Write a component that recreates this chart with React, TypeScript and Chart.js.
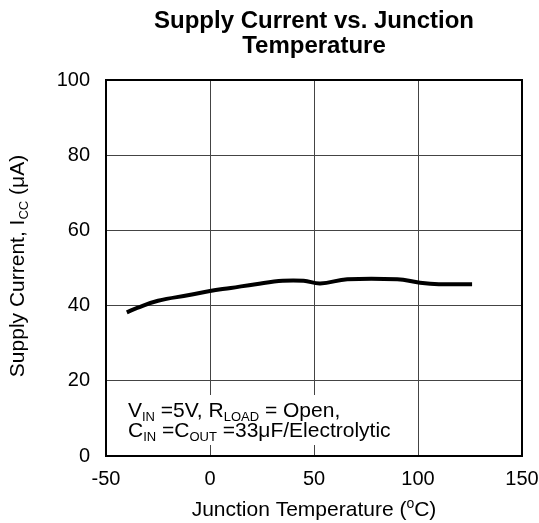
import React, { useEffect, useRef } from "react";
import { Chart, registerables } from "chart.js";

Chart.register(...registerables);

const temps = [-40, -35, -25, -10, 0, 10, 22, 35, 45, 53, 66, 90, 101, 110, 126];
const current = [38.2, 39.4, 41.3, 42.8, 43.9, 44.7, 45.7, 46.6, 46.6, 45.9, 47.0, 47.0, 46.1, 45.7, 45.7];
const xTicks = [-50, 0, 50, 100, 150];
const yTicks = [0, 20, 40, 60, 80, 100];
const titleLines = ["Supply Current vs. Junction", "Temperature"];

const FONT = 'Arial, "Liberation Sans", sans-serif';

type Seg = { t: string; sub?: boolean; sup?: boolean };

function drawRich(ctx: CanvasRenderingContext2D, segs: Seg[], x: number, y: number, align: "left" | "center", size: number, small: number, shift: number) {
  const widths = segs.map((s) => {
    ctx.font = `${s.sub || s.sup ? small : size}px ${FONT}`;
    return ctx.measureText(s.t).width;
  });
  const total = widths.reduce((a, b) => a + b, 0);
  let cx = align === "center" ? x - total / 2 : x;
  ctx.textAlign = "left";
  ctx.textBaseline = "alphabetic";
  segs.forEach((s, i) => {
    ctx.font = `${s.sub || s.sup ? small : size}px ${FONT}`;
    const dy = s.sub ? shift : s.sup ? -size * 0.4 : 0;
    ctx.fillText(s.t, cx, y + dy);
    cx += widths[i];
  });
  return total;
}

const decor = {
  id: "decor",
  afterDraw(chart: any) {
    const ctx: CanvasRenderingContext2D = chart.ctx;
    const a = chart.chartArea;
    ctx.save();
    ctx.strokeStyle = "#000";
    ctx.lineWidth = 2;
    ctx.strokeRect(a.left, a.top, a.right - a.left, a.bottom - a.top);
    const cx = (a.left + a.right) / 2;
    ctx.fillStyle = "#000";
    ctx.font = `bold 24px ${FONT}`;
    ctx.textAlign = "center";
    ctx.textBaseline = "alphabetic";
    ctx.fillText(titleLines[0], cx, 28);
    ctx.fillText(titleLines[1], cx, 53);
    drawRich(ctx, [{ t: "Junction Temperature (" }, { t: "o", sup: true }, { t: "C)" }], cx, 516, "center", 21, 14, 0);
    ctx.save();
    ctx.translate(24, 266);
    ctx.rotate(-Math.PI / 2);
    drawRich(ctx, [{ t: "Supply Current, I" }, { t: "CC", sub: true }, { t: " (μA)" }], 0, 0, "center", 21, 13, 4);
    ctx.restore();
    ctx.restore();
  },
  beforeDatasetsDraw(chart: any) {
    const ctx: CanvasRenderingContext2D = chart.ctx;
    const a = chart.chartArea;
    ctx.save();
    ctx.fillStyle = "#fff";
    ctx.fillRect(a.left + 2, 395, 250, 50);
    ctx.fillStyle = "#000";
    drawRich(ctx, [{ t: "V" }, { t: "IN", sub: true }, { t: " =5V, R" }, { t: "LOAD", sub: true }, { t: " = Open," }], 128, 416.5, "left", 21, 13, 4.5);
    drawRich(ctx, [{ t: "C" }, { t: "IN", sub: true }, { t: " =C" }, { t: "OUT", sub: true }, { t: " =33μF/Electrolytic" }], 128, 436.5, "left", 21, 13, 4.5);
    ctx.restore();
  },
};

export default function App() {
  const ref = useRef<HTMLCanvasElement>(null);
  useEffect(() => {
    if (!ref.current) return;
    const chart = new Chart(ref.current, {
      type: "line",
      data: {
        datasets: [
          {
            data: temps.map((t, i) => ({ x: t, y: current[i] })),
            borderColor: "#000",
            borderWidth: 4,
            pointRadius: 0,
            tension: 0.4,
            fill: false,
          },
        ],
      },
      options: {
        animation: false,
        responsive: false,
        layout: { padding: { left: 0, right: 17, top: 80, bottom: 0 } },
        plugins: { legend: { display: false }, tooltip: { enabled: false }, title: { display: false } },
        scales: {
          x: {
            type: "linear",
            min: -50,
            max: 150,
            afterBuildTicks: (s: any) => {
              s.ticks = xTicks.map((v) => ({ value: v }));
            },
            afterFit: (s: any) => {
              s.height = 67;
              s.paddingLeft = 0;
              s.paddingRight = 0;
            },
            grid: { color: "#444", lineWidth: 1, drawTicks: false },
            border: { display: false },
            ticks: { color: "#000", font: { family: FONT, size: 20 }, padding: 11, maxRotation: 0 },
          },
          y: {
            type: "linear",
            min: 0,
            max: 100,
            afterBuildTicks: (s: any) => {
              s.ticks = yTicks.map((v) => ({ value: v }));
            },
            afterFit: (s: any) => {
              s.width = 106;
              s.paddingTop = 0;
              s.paddingBottom = 0;
            },
            grid: { color: "#444", lineWidth: 1, drawTicks: false },
            border: { display: false },
            ticks: { color: "#000", font: { family: FONT, size: 20 }, padding: 16 },
          },
        },
      },
      plugins: [decor],
    });
    return () => chart.destroy();
  }, []);
  return (
    <div style={{ position: "absolute", left: 0, top: 0, width: 539, height: 523, background: "#fff" }}>
      <canvas ref={ref} width={539} height={523} style={{ display: "block" }} />
    </div>
  );
}
